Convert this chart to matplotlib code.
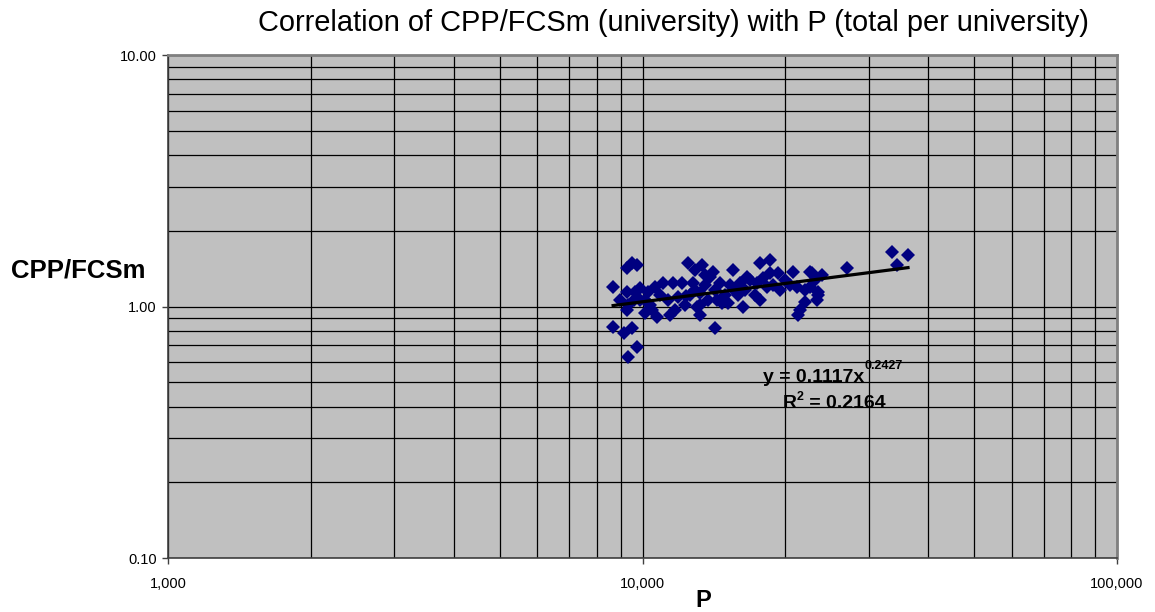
import numpy as np
import matplotlib
matplotlib.use("Agg")
import matplotlib.pyplot as plt
from matplotlib.ticker import LogLocator, FixedLocator, NullFormatter

plt.rcParams['font.family'] = ['Liberation Sans', 'DejaVu Sans']

# total publications per university (P) and CPP/FCSm
p_total = [8670, 9500, 9280, 9740, 9620, 9280, 9280, 8670, 9160, 9500,
           9740, 9330, 10120, 10120, 10620, 11050, 11600, 10730, 11430, 12110,
           11880, 12470, 13350, 12780, 13220, 13030, 13220, 13880, 14080, 14570,
           14220, 14360, 15150, 15510, 16050, 16610, 16290, 17690, 18570, 17430,
           18300, 18570, 19300, 20760, 21170, 21480, 21270, 22550, 22550, 23440,
           23330, 26980, 33560, 36270, 34390, 9880, 10370, 10890, 11320, 11710,
           12290, 12590, 13540, 13740, 14220, 14930, 15290, 15900, 16440, 16850,
           17260, 17950, 18840, 19490, 19970, 20460, 22000, 23100, 23890, 22770,
           23440, 22000, 8970, 9320, 9600, 9880, 10270, 10470, 12330, 12900,
           13210, 14720, 15600, 17690, 13540, 12900]
cpp_fcsm = [1.195, 1.489, 1.423, 1.462, 1.142, 1.142, 0.968, 0.829, 0.785, 0.821,
            0.690, 0.630, 1.061, 0.942, 1.195, 1.240, 1.240, 0.908, 0.925, 1.240,
            1.091, 1.489, 1.462, 1.240, 1.131, 0.995, 0.925, 1.310, 1.371, 1.240,
            0.821, 1.061, 1.033, 1.397, 1.240, 1.310, 0.995, 1.489, 1.531, 1.240,
            1.195, 1.359, 1.359, 1.371, 1.195, 0.968, 0.925, 1.371, 1.195, 1.111,
            1.061, 1.423, 1.647, 1.603, 1.462, 1.061, 1.014, 1.111, 1.061, 0.968,
            1.014, 1.111, 1.218, 1.061, 1.163, 1.111, 1.218, 1.111, 1.163, 1.274,
            1.111, 1.298, 1.218, 1.163, 1.274, 1.218, 1.163, 1.274, 1.334, 1.359,
            1.142, 1.042, 1.061, 1.014, 1.061, 1.185, 1.142, 0.968, 1.101, 1.163,
            1.014, 1.033, 1.163, 1.061, 1.334, 1.397]

# power trendline y = a * x^b
fit_a = 0.1117
fit_b = 0.2427
fit_r2 = 0.2164

W, H = 1155, 612
fig = plt.figure(figsize=(W / 100, H / 100), dpi=100)
ax = fig.add_axes([0.1455, 0.0882, 0.8216, 0.8219])
ax.set_facecolor('#c0c0c0')

ax.set_xscale('log')
ax.set_yscale('log')
ax.set_xlim(1000, 100000)
ax.set_ylim(0.1, 10)

ax.xaxis.set_minor_locator(LogLocator(base=10, subs=np.arange(2, 10)))
ax.yaxis.set_minor_locator(LogLocator(base=10, subs=np.arange(2, 10)))
ax.xaxis.set_minor_formatter(NullFormatter())
ax.yaxis.set_minor_formatter(NullFormatter())
ax.xaxis.set_major_locator(FixedLocator([1000, 10000, 100000]))
ax.yaxis.set_major_locator(FixedLocator([0.1, 1, 10]))
ax.set_xticklabels(['1,000', '10,000', '100,000'])
ax.set_yticklabels(['0.10', '1.00', '10.00'])

ax.grid(True, which='both', color='black', linewidth=0.9)
ax.set_axisbelow(True)
ax.tick_params(which='minor', length=0)
ax.tick_params(which='major', length=4, width=1, color='#404040',
               labelsize=10.5, pad=4)
ax.tick_params(axis='x', pad=10)

for side in ['top', 'right']:
    ax.spines[side].set_color('#808080')
    ax.spines[side].set_linewidth(2)
for side in ['left', 'bottom']:
    ax.spines[side].set_color('#404040')
    ax.spines[side].set_linewidth(1.2)

ax.plot(p_total, cpp_fcsm, linestyle='none', marker='D', markersize=7.4,
        color='#000080', markeredgewidth=0, zorder=3)

xs = np.linspace(min(p_total), max(p_total), 50)
ax.plot(xs, fit_a * xs ** fit_b, color='black', linewidth=2.3, zorder=4)


def text_run(x_px, y_px, pieces):
    # lay out bold text pieces left to right, each raised by dy pixels
    renderer = fig.canvas.get_renderer()
    x = x_px
    for s, size, dy in pieces:
        t = fig.text(x / W, 1 - (y_px - dy) / H, s, fontsize=size,
                     fontweight='bold', ha='left', va='baseline', zorder=5)
        x += t.get_window_extent(renderer).width


text_run(763, 382, [('y = %.4fx' % fit_a, 14, 0), ('%.4f' % fit_b, 9, 13)])
text_run(783, 408, [('R', 14, 0), ('2', 9, 8), (' = %.4f' % fit_r2, 14, 0)])

fig.text(673 / W, 1 - 31 / H,
         'Correlation of CPP/FCSm (university) with P (total per university)',
         fontsize=20.9, ha='center', va='baseline')
fig.text(78.5 / W, 1 - 278 / H, 'CPP/FCSm', fontsize=18.5,
         fontweight='bold', ha='center', va='baseline')
fig.text(703 / W, 1 - 607 / H, 'P', fontsize=17,
         fontweight='bold', ha='center', va='baseline')

fig.savefig('out.png', dpi=100)
